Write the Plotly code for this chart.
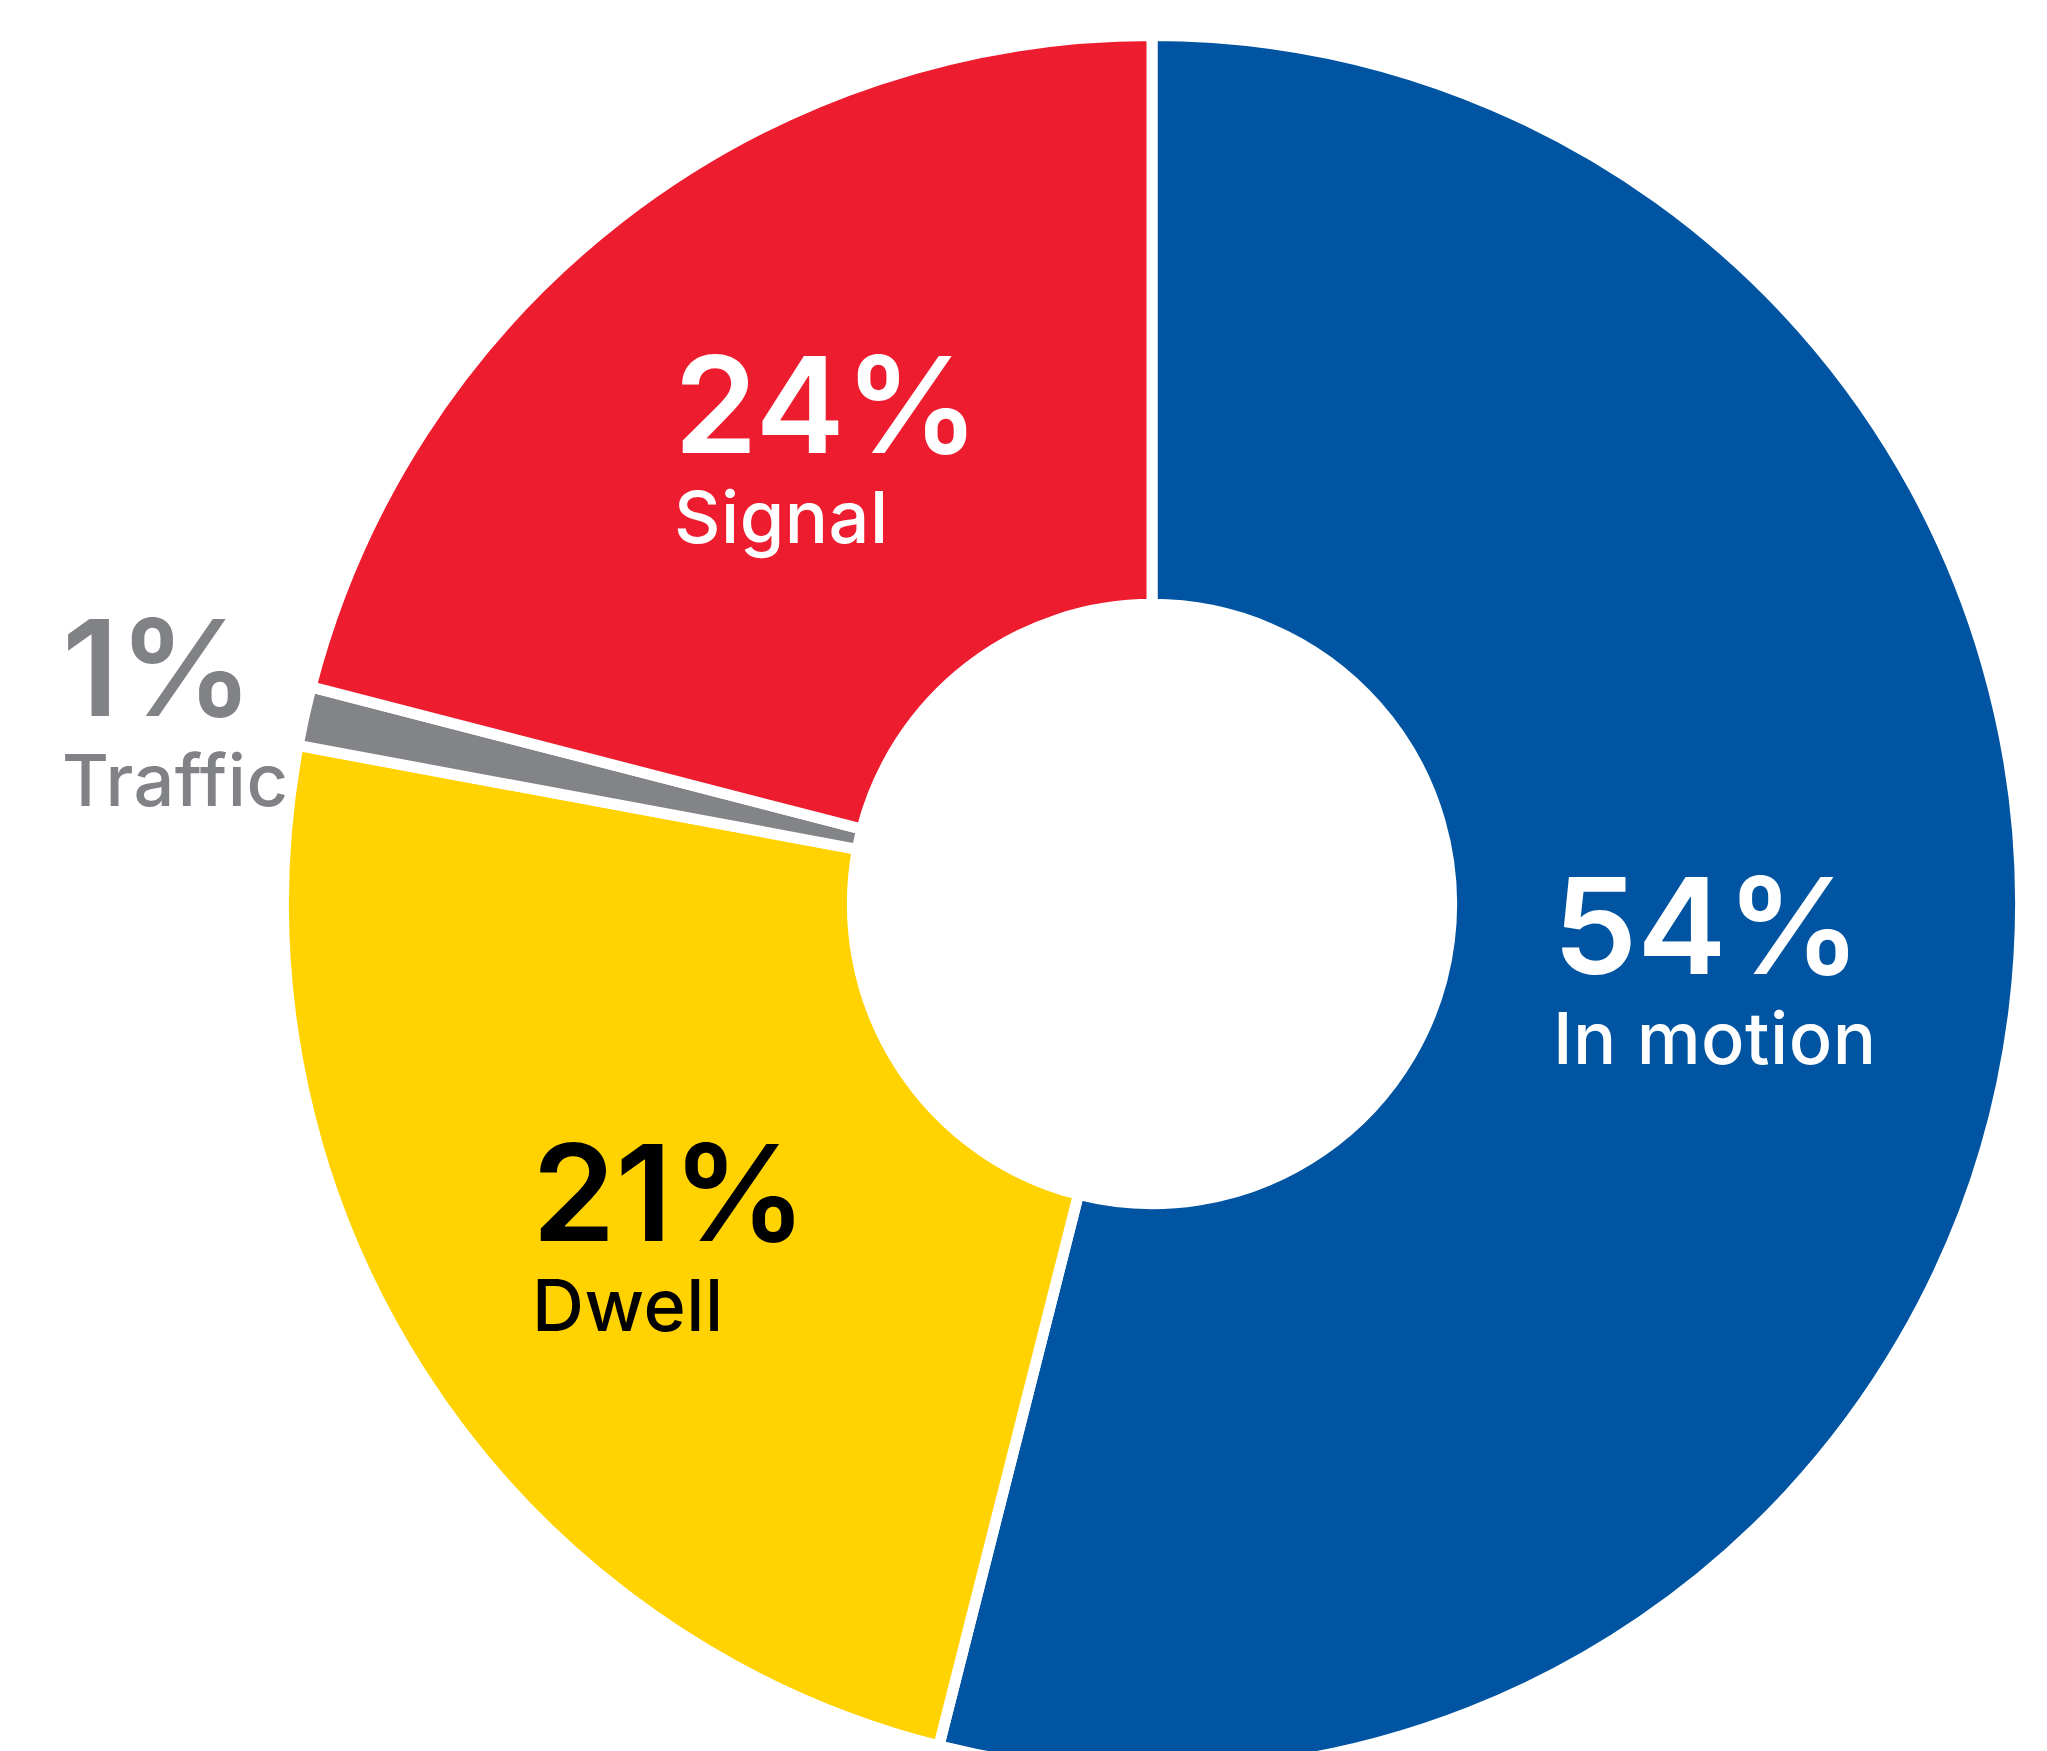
import plotly.graph_objects as go

# ---- data ----
categories = ["In motion", "Dwell", "Traffic", "Signal"]
slice_share = [54, 24, 1.1, 21]          # arc shares as drawn in the picture
pct_labels = ["54%", "21%", "1%", "24%"]  # percentages printed on the chart
slice_colors = ["#0054A1", "#FFD200", "#838487", "#ED1C2E"]
text_colors = ["#FFFFFF", "#000000", "#818286", "#FFFFFF"]

W, H = 2047, 1800
cx, cy, r = 1152, 904, 868.5


def fx(x):
    return x / W


def fy(y):
    return 1 - y / H


fig = go.Figure()
fig.add_trace(go.Pie(
    labels=categories,
    values=slice_share,
    sort=False,
    direction="clockwise",
    rotation=0,
    hole=0.345,
    marker=dict(colors=slice_colors, line=dict(color="#FFFFFF", width=11)),
    textinfo="none",
    hoverinfo="label",
    showlegend=False,
    domain=dict(x=[fx(cx - r), fx(cx + r)], y=[fy(cy + r), fy(cy - r)]),
))

# label block positions: left x, vertical centre of the two-line block
label_pos = {
    "In motion": (1551, 962),
    "Dwell": (530, 1229),
    "Traffic": (60, 704),
    "Signal": (672, 441),
}

for cat, pct, col in zip(categories, pct_labels, text_colors):
    x, yc = label_pos[cat]
    txt = (f"<span style='font-size:134px;font-weight:600'>{pct}</span><br>"
           f"<span style='font-size:72px;letter-spacing:0.5px'>{cat}</span>")
    fig.add_annotation(
        x=fx(x), y=fy(yc), xref="paper", yref="paper",
        xanchor="left", yanchor="middle", showarrow=False,
        align="left", text=txt,
        font=dict(family="Inter", size=69, color=col, weight=500),
    )

fig.update_layout(
    width=W, height=H,
    margin=dict(l=0, r=0, t=0, b=0),
    paper_bgcolor="#FFFFFF",
    plot_bgcolor="#FFFFFF",
)

fig.write_html(
    "out.html",
    config={"displayModeBar": False},
    post_script="document.body.style.margin='0';document.body.style.overflow='hidden';document.documentElement.style.overflow='hidden';",
)
